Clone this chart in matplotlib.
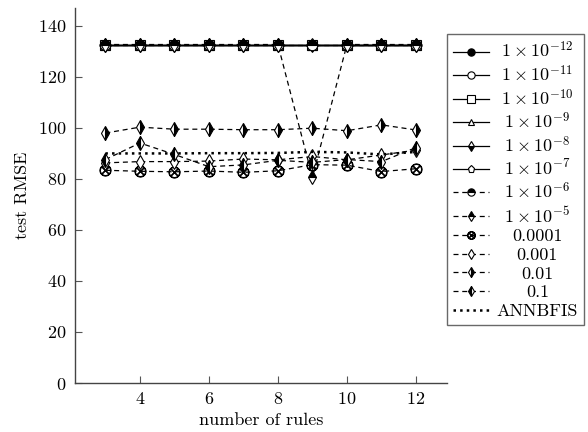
import numpy as np
import matplotlib
matplotlib.use("Agg")
import matplotlib.pyplot as plt
from matplotlib.transforms import Affine2D

plt.rcParams['font.family'] = 'serif'
plt.rcParams['font.serif'] = ['cmr10']
plt.rcParams['mathtext.fontset'] = 'cm'
plt.rcParams['axes.formatter.use_mathtext'] = True

# number of rules
rules = [3, 4, 5, 6, 7, 8, 9, 10, 11, 12]

# test RMSE for each learning rate
r_1e12 = [132.7, 132.7, 132.7, 132.7, 132.7, 132.7, 132.7, 132.7, 132.7, 132.7]
r_1e11 = [132.7, 132.7, 132.7, 132.7, 132.7, 132.7, 132.7, 132.7, 132.7, 132.7]
r_1e10 = [132.7, 132.7, 132.7, 132.7, 132.7, 132.7, 132.7, 132.7, 132.7, 132.7]
r_1e9 = [132.7, 132.7, 132.7, 132.7, 132.7, 132.7, 132.7, 132.7, 132.7, 132.7]
r_1e8 = [132.7, 132.7, 132.7, 132.7, 132.7, 132.7, 132.7, 132.7, 132.7, 132.7]
r_1e7 = [132.7, 132.7, 132.7, 132.7, 132.7, 132.7, 132.7, 132.7, 132.7, 132.7]
r_1e6 = [132.7, 132.7, 132.7, 132.7, 132.7, 132.7, 132.7, 132.7, 132.7, 132.7]
r_1e5 = [132.7, 132.7, 132.7, 132.7, 132.7, 132.7, 80.6, 132.7, 132.7, 132.7]
r_1e4 = [83.4, 83.0, 82.8, 83.1, 82.6, 83.2, 85.6, 85.4, 82.9, 84.0]
r_1e3 = [86.3, 86.8, 86.8, 87.0, 87.8, 87.5, 88.8, 87.5, 89.4, 91.3]
r_1e2 = [98.0, 100.3, 99.5, 99.5, 99.3, 99.3, 99.9, 98.9, 101.2, 99.2]
r_1e1 = [87.6, 94.1, 89.6, 84.8, 85.5, 87.3, 86.5, 87.6, 86.8, 92.3]
annbfis = [90.0, 90.0, 90.0, 90.1, 90.1, 90.2, 90.6, 90.4, 89.6, 90.6]

labels = [r'$1\times10^{-12}$', r'$1\times10^{-11}$', r'$1\times10^{-10}$',
          r'$1\times10^{-9}$', r'$1\times10^{-8}$', r'$1\times10^{-7}$',
          r'$1\times10^{-6}$', r'$1\times10^{-5}$', '0.0001', '0.001',
          '0.01', '0.1']
series = [r_1e12, r_1e11, r_1e10, r_1e9, r_1e8, r_1e7,
          r_1e6, r_1e5, r_1e4, r_1e3, r_1e2, r_1e1]

# (marker, face colour, fill style, line style, size)
styles = [
    ('o', 'black', 'full', '-', 7.5),
    ('o', 'white', 'full', '-', 7.5),
    ('s', 'white', 'full', '-', 7.5),
    ('^', 'white', 'full', '-', 6.5),
    ('d', 'black', 'bottom', '-', 7),
    ('p', 'white', 'full', '-', 7.5),
    ('o', 'black', 'top', '--', 7.5),
    ('d', 'black', 'top', '--', 7),
    (r'$\otimes$', 'black', 'full', '--', 8),
    ('d', 'white', 'full', '--', 7),
    ('d', 'black', 'right', '--', 7),
    ('d', 'black', 'left', '--', 7),
]

fig = plt.figure(figsize=(5.88, 4.32), dpi=100)
ax = fig.add_axes([0.1276, 0.1134, 0.6326, 0.868])

for y, lab, (m, fc, fs, ls, ms) in zip(series, labels, styles):
    ax.plot(rules, y, color='black', linestyle=ls, linewidth=0.9,
            marker=m, markersize=ms, markerfacecolor=fc, fillstyle=fs,
            markerfacecoloralt='white', markeredgecolor='black',
            markeredgewidth=0.8, label=lab,
            dashes=(4, 3) if ls == '--' else (None, None))
ax.plot(rules, annbfis, color='black', linestyle=':', linewidth=1.8,
        label='ANNBFIS')

ax.set_xlim(2.12, 12.9)
ax.set_ylim(0, 147)
ax.set_xticks([4, 6, 8, 10, 12])
ax.set_yticks([0, 20, 40, 60, 80, 100, 120, 140])
ax.spines['top'].set_visible(False)
ax.spines['right'].set_visible(False)
for s in ['left', 'bottom']:
    ax.spines[s].set_color('#444444')
    ax.spines[s].set_linewidth(1.0)
ax.tick_params(direction='in', length=5, width=0.8, color='#555555',
               labelsize=13, pad=6)
ax.set_xlabel('number of rules', fontsize=13, labelpad=4)
ax.set_ylabel('test RMSE', fontsize=13, labelpad=6)

leg = fig.legend(loc='upper left', bbox_to_anchor=(447 / 588, 1 - 34 / 432),
                 fontsize=13, handlelength=2.0, fancybox=False,
                 edgecolor='#444444', borderaxespad=0, labelspacing=0.17,
                 markerscale=0.7, handletextpad=0.4, borderpad=0.35)
leg.get_frame().set_linewidth(1.0)

# centre the legend labels in their column
fig.canvas.draw()
rend = fig.canvas.get_renderer()
widths = [t.get_window_extent(rend).width for t in leg.get_texts()]
wmax = max(widths)
for t, w in zip(leg.get_texts(), widths):
    t.set_transform(t.get_transform() + Affine2D().translate((wmax - w) / 2, 0))

plt.savefig('out.png', dpi=100)
